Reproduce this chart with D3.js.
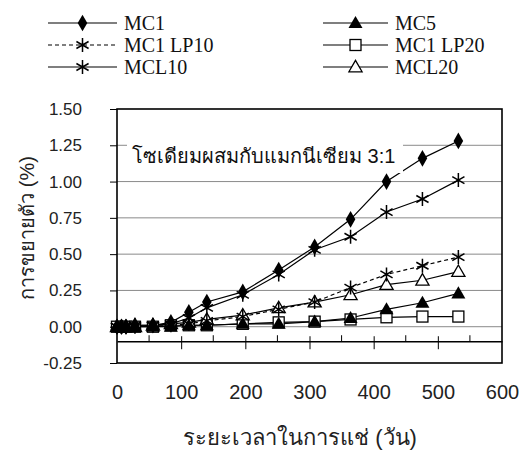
<!DOCTYPE html>
<html>
<head>
<meta charset="utf-8">
<script src="https://cdn.jsdelivr.net/npm/d3@7"></script>
<style>
  html, body { margin: 0; padding: 0; background: #fff; }
  svg { display: block; }
</style>
</head>
<body>
<script>
// Immersion time (days)
const days = [0, 7, 14, 28, 56, 84, 112, 140, 196, 252, 308, 364, 420, 476, 532];

// Expansion (%) per mix
const mc1     = [0, 0, 0, 0.01, 0.01, 0.03, 0.10, 0.17, 0.24, 0.39, 0.55, 0.74, 1.00, 1.16, 1.28];
const mc1lp10 = [0, 0, 0, 0, 0.01, 0.01, 0.02, 0.04, 0.07, 0.12, 0.17, 0.27, 0.36, 0.42, 0.48];
const mcl10   = [0, 0, 0, 0.01, 0.01, 0.02, 0.06, 0.13, 0.22, 0.36, 0.53, 0.62, 0.79, 0.88, 1.01];
const mc5     = [0, 0, 0, 0, 0, 0, 0.01, 0.01, 0.02, 0.02, 0.035, 0.06, 0.12, 0.165, 0.23];
const mc1lp20 = [0, 0, 0, 0, 0, 0.01, 0.01, 0.01, 0.02, 0.03, 0.035, 0.05, 0.065, 0.07, 0.07];
const mcl20   = [0, 0, 0, 0, 0.01, 0.02, 0.03, 0.05, 0.08, 0.13, 0.17, 0.22, 0.29, 0.32, 0.38];

const seriesNames = ["MC1", "MC1 LP10", "MCL10", "MC5", "MC1 LP20", "MCL20"];
const yTicks = [-0.25, 0, 0.25, 0.5, 0.75, 1.0, 1.25, 1.5];
const xTicks = [0, 100, 200, 300, 400, 500, 600];
const xMinorTicks = [50, 150, 250, 350, 450, 550];

const yTitle = "การขยายตัว (%)";
const xTitle = "ระยะเวลาในการแช่ (วัน)";
const note = "โซเดียมผสมกับแมกนีเซียม 3:1";

const series = [
  { name: seriesNames[0], values: mc1,     marker: "diamond",  dash: null, z: 5 },
  { name: seriesNames[1], values: mc1lp10, marker: "asterisk", dash: "4,3", z: 3 },
  { name: seriesNames[2], values: mcl10,   marker: "asterisk", dash: null, z: 2 },
  { name: seriesNames[3], values: mc5,     marker: "triangle", dash: null, z: 4 },
  { name: seriesNames[4], values: mc1lp20, marker: "square",   dash: null, z: 0 },
  { name: seriesNames[5], values: mcl20,   marker: "otriangle",dash: null, z: 1 }
];

const W = 521, H = 452;
const svg = d3.select("body").append("svg").attr("width", W).attr("height", H);

const x = d3.scaleLinear().domain([0, 600]).range([117, 502]);
const y = d3.scaleLinear().domain([-0.25, 1.5]).range([363, 109]);

const serifFont = "'Liberation Serif', 'Times New Roman', serif";
const sansFont = "'Liberation Sans', Arial, sans-serif";
const fmt2 = d => d3.format(".2f")(d).replace("\u2212", "-");

// Horizontal gridlines
svg.append("g").selectAll("line")
  .data(yTicks.filter(t => t > -0.25 && t < 1.5))
  .join("line")
  .attr("x1", x(0)).attr("x2", x(600))
  .attr("y1", d => y(d)).attr("y2", d => y(d))
  .attr("stroke", "#8a8a8a").attr("stroke-width", 1);

// Y axis
const yAxis = svg.append("g")
  .attr("transform", `translate(${x(0)},0)`)
  .call(d3.axisLeft(y).tickValues(yTicks).tickFormat(fmt2)
        .tickSizeInner(7).tickSizeOuter(0).tickPadding(28));
yAxis.select(".domain").remove();
yAxis.selectAll("line").attr("stroke", "#000");
yAxis.selectAll("text")
  .attr("font-family", sansFont).attr("font-size", 17).attr("fill", "#222");

// X axis crossing at -0.1
const xAxisY = y(-0.1);
const xAxis = svg.append("g")
  .attr("transform", `translate(0,${xAxisY})`)
  .call(d3.axisBottom(x).tickValues(xTicks).tickFormat(d3.format("d"))
        .tickSizeInner(8).tickSizeOuter(0).tickPadding(36));
xAxis.select(".domain").attr("stroke", "#000").attr("stroke-width", 1.3);
xAxis.selectAll(".tick line").attr("stroke", "#000").attr("y1", -5)
  .filter(d => d === 0 || d === 600).remove();
xAxis.selectAll("text")
  .attr("font-family", sansFont).attr("font-size", 20).attr("fill", "#222");
// Minor ticks (inside)
xAxis.append("g").selectAll("line")
  .data(xMinorTicks).join("line")
  .attr("x1", d => x(d)).attr("x2", d => x(d))
  .attr("y1", -6).attr("y2", 0)
  .attr("stroke", "#000");

// Plot frame
svg.append("rect")
  .attr("x", x(0)).attr("y", y(1.5))
  .attr("width", x(600) - x(0)).attr("height", y(-0.25) - y(1.5))
  .attr("fill", "none").attr("stroke", "#000").attr("stroke-width", 1.6);

// Marker drawing
function drawMarker(g, type, cx, cy) {
  if (type === "diamond") {
    g.append("path").attr("d", d3.symbol(d3.symbolDiamond, 80)())
      .attr("transform", `translate(${cx},${cy})`).attr("fill", "#000");
  } else if (type === "triangle") {
    g.append("path").attr("d", d3.symbol(d3.symbolTriangle, 85)())
      .attr("transform", `translate(${cx},${cy + 1})`).attr("fill", "#000");
  } else if (type === "otriangle") {
    g.append("path").attr("d", d3.symbol(d3.symbolTriangle, 75)())
      .attr("transform", `translate(${cx},${cy + 1})`)
      .attr("fill", "#fff").attr("stroke", "#000").attr("stroke-width", 1.3);
  } else if (type === "square") {
    g.append("rect").attr("x", cx - 5.5).attr("y", cy - 5.5)
      .attr("width", 11).attr("height", 11)
      .attr("fill", "#fff").attr("stroke", "#000").attr("stroke-width", 1.3);
  } else if (type === "asterisk") {
    const r = 7;
    const p = d3.path();
    p.moveTo(cx, cy - r); p.lineTo(cx, cy + r);
    p.moveTo(cx - r * 0.87, cy - r * 0.5); p.lineTo(cx + r * 0.87, cy + r * 0.5);
    p.moveTo(cx - r * 0.87, cy + r * 0.5); p.lineTo(cx + r * 0.87, cy - r * 0.5);
    g.append("path").attr("d", p.toString())
      .attr("stroke", "#000").attr("stroke-width", 1.5).attr("fill", "none");
  }
}

const line = d3.line().x(d => x(d[0])).y(d => y(d[1]));

// Draw series: open markers underneath, filled markers on top
const ordered = [...series].sort((a, b) => a.z - b.z);
const plot = svg.append("g");
ordered.forEach(s => {
  const pts = days.map((d, i) => [d, s.values[i]]);
  plot.append("path").datum(pts)
    .attr("d", line)
    .attr("fill", "none").attr("stroke", "#000").attr("stroke-width", 1.2)
    .attr("stroke-dasharray", s.dash);
});
ordered.forEach(s => {
  const mg = plot.append("g");
  days.forEach((d, i) => drawMarker(mg, s.marker, x(d), y(s.values[i])));
});

// Annotation with white backing
const noteG = svg.append("g");
noteG.append("rect")
  .attr("x", 127).attr("y", 134).attr("width", 276).attr("height", 39)
  .attr("fill", "#fff");
noteG.append("text")
  .attr("x", 132).attr("y", 163)
  .attr("font-family", sansFont).attr("font-size", 20).attr("fill", "#111")
  .text(note);

// Axis titles
svg.append("text")
  .attr("transform", `translate(34,228) rotate(-90)`)
  .attr("text-anchor", "middle")
  .attr("font-family", sansFont).attr("font-size", 20).attr("fill", "#222")
  .text(yTitle);

svg.append("text")
  .attr("x", 300).attr("y", 445)
  .attr("text-anchor", "middle")
  .attr("font-family", sansFont).attr("font-size", 22).attr("fill", "#222")
  .text(xTitle);

// Legend
const legendPos = [
  { lx: 48, ly: 23 }, { lx: 48, ly: 45 }, { lx: 48, ly: 67 },
  { lx: 323, ly: 23 }, { lx: 323, ly: 45 }, { lx: 323, ly: 67 }
];
const legend = svg.append("g");
series.forEach((s, i) => {
  const { lx, ly } = legendPos[i];
  const len = i < 3 ? 69 : 65;
  legend.append("line")
    .attr("x1", lx).attr("x2", lx + len).attr("y1", ly).attr("y2", ly)
    .attr("stroke", "#000").attr("stroke-width", 1.2)
    .attr("stroke-dasharray", s.dash);
  drawMarker(legend, s.marker, lx + len / 2, ly);
  legend.append("text")
    .attr("x", lx + len + 7).attr("y", ly + 7)
    .attr("font-family", serifFont).attr("font-size", 20).attr("fill", "#111")
    .text(s.name);
});
</script>
</body>
</html>
